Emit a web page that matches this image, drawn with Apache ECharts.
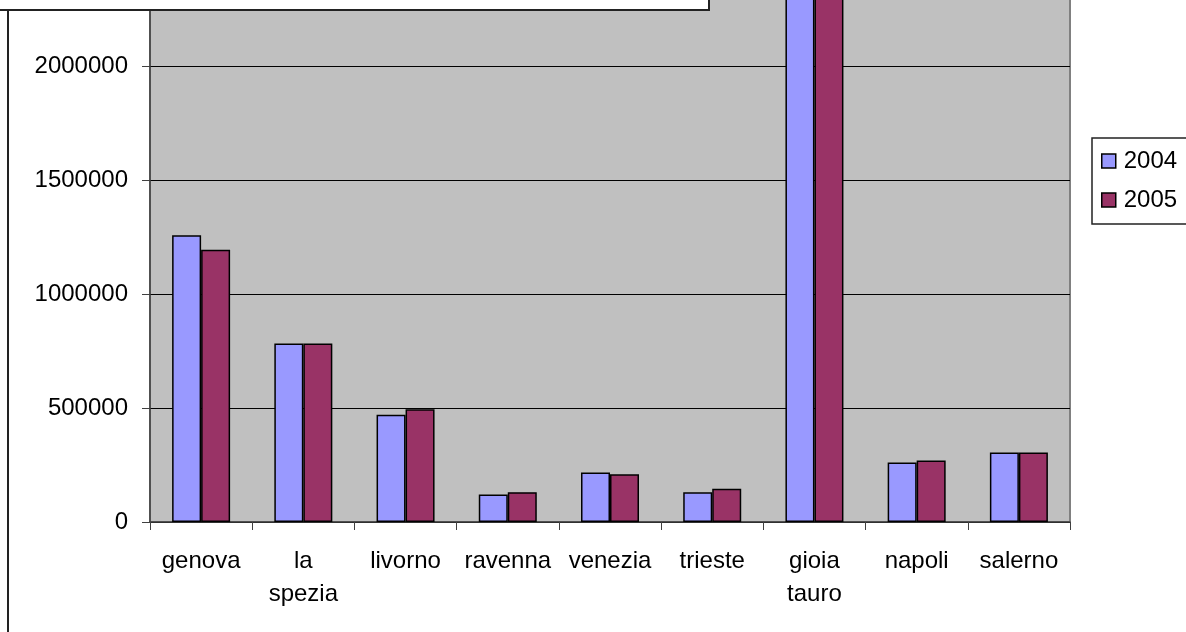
<!DOCTYPE html>
<html>
<head>
<meta charset="utf-8">
<script src="https://cdn.jsdelivr.net/npm/echarts@6/dist/echarts.min.js"></script>
<style>
html,body{margin:0;padding:0;background:#fff;}
#chart{width:1186px;height:632px;}
</style>
</head>
<body>
<div id="chart"></div>
<script>
const categories = ['genova', 'la\nspezia', 'livorno', 'ravenna', 'venezia', 'trieste', 'gioia\ntauro', 'napoli', 'salerno'];
const seriesNames = ['2004', '2005'];
const values2004 = [1258000, 783000, 470000, 121000, 217000, 130000, 3200000, 261000, 305000];
const values2005 = [1194000, 783000, 494000, 131000, 209000, 146000, 3150000, 270000, 305000];
const yTicks = [0, 500000, 1000000, 1500000, 2000000];

const FONT = '"Liberation Sans", Arial, Helvetica, sans-serif';
const chart = echarts.init(document.getElementById('chart'), null, {renderer: 'canvas'});

const option = {
  animation: false,
  backgroundColor: '#ffffff',
  textStyle: {fontFamily: FONT},
  grid: {
    left: 150, right: 116, top: -5, bottom: 110,
    outerBoundsMode: 'none',
    show: true, backgroundColor: '#C0C0C0', borderColor: '#808080', borderWidth: 2
  },
  legend: {
    orient: 'vertical',
    left: 1096, top: 144,
    itemWidth: 14, itemHeight: 14, itemGap: 15,
    icon: 'rect',
    data: seriesNames,
    textStyle: {fontSize: 24, color: '#000', fontFamily: FONT, padding: [0, 0, 0, 3]},
    itemStyle: {borderColor: '#000', borderWidth: 1.5}
  },
  xAxis: {
    type: 'category',
    data: categories,
    axisLine: {show: true, lineStyle: {color: '#404040', width: 1.5}},
    axisTick: {show: true, length: 8, lineStyle: {color: '#404040'}},
    axisLabel: {fontSize: 24, color: '#000', fontFamily: FONT, margin: 23, lineHeight: 33, interval: 0}
  },
  yAxis: {
    type: 'value',
    min: 0, max: 2311400, interval: 500000,
    axisLine: {show: true, lineStyle: {color: '#404040', width: 1.5}},
    axisTick: {show: true, length: 8, lineStyle: {color: '#404040'}},
    axisLabel: {
      fontSize: 24, color: '#000', fontFamily: FONT, margin: 22,
      showMaxLabel: false,
      formatter: v => (yTicks.indexOf(v) >= 0 ? String(v) : '')
    },
    splitLine: {show: true, lineStyle: {color: '#000', width: 1}}
  },
  series: [
    {
      name: seriesNames[0], type: 'bar', data: values2004,
      barWidth: 29, barGap: '0%', clip: true,
      itemStyle: {color: '#9999FF', borderColor: '#000', borderWidth: 1.5}
    },
    {
      name: seriesNames[1], type: 'bar', data: values2005,
      barWidth: 29, barGap: '0%', clip: true,
      itemStyle: {color: '#993366', borderColor: '#000', borderWidth: 1.5}
    }
  ],
  graphic: [
    {type: 'rect', z: 100, shape: {x: -10, y: -10, width: 719, height: 20},
     style: {fill: '#fff', stroke: '#222', lineWidth: 2}},
    {type: 'line', z: 100, shape: {x1: 8, y1: 10, x2: 8, y2: 640},
     style: {stroke: '#222', lineWidth: 2}},
    {type: 'rect', z: 1, shape: {x: 1092, y: 138, width: 120, height: 86},
     style: {fill: '#fff', stroke: '#222', lineWidth: 1.5}}
  ]
};
chart.setOption(option);
</script>
</body>
</html>
